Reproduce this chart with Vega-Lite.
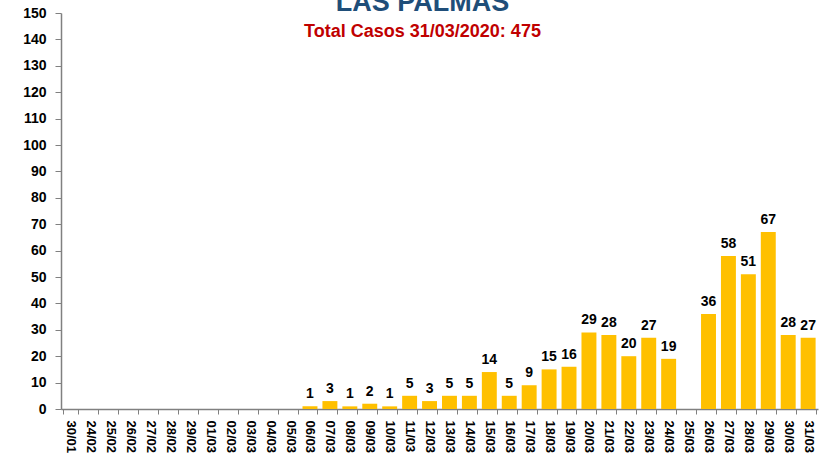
{
  "$schema": "https://vega.github.io/schema/vega-lite/v6.json",
  "autosize": "none",
  "width": 757,
  "height": 396,
  "padding": {"top": 13, "left": 61, "right": 5, "bottom": 48},
  "background": "white",
  "config": {
    "font": "Liberation Sans",
    "view": {"stroke": null}
  },
  "title": {
    "text": "LAS PALMAS",
    "subtitle": "Total Casos 31/03/2020: 475",
    "anchor": "middle",
    "frame": "group",
    "dx": -17,
    "offset": -36,
    "font": "Liberation Sans",
    "fontSize": 27,
    "fontWeight": "bold",
    "color": "#1F4E79",
    "subtitleFont": "Liberation Sans",
    "subtitleFontSize": 18,
    "subtitleFontWeight": "bold",
    "subtitleColor": "#C00000",
    "subtitlePadding": 6
  },
  "data": {
    "values": [
      {"fecha": "30/01", "casos": 0},
      {"fecha": "24/02", "casos": 0},
      {"fecha": "25/02", "casos": 0},
      {"fecha": "26/02", "casos": 0},
      {"fecha": "27/02", "casos": 0},
      {"fecha": "28/02", "casos": 0},
      {"fecha": "29/02", "casos": 0},
      {"fecha": "01/03", "casos": 0},
      {"fecha": "02/03", "casos": 0},
      {"fecha": "03/03", "casos": 0},
      {"fecha": "04/03", "casos": 0},
      {"fecha": "05/03", "casos": 0},
      {"fecha": "06/03", "casos": 1},
      {"fecha": "07/03", "casos": 3},
      {"fecha": "08/03", "casos": 1},
      {"fecha": "09/03", "casos": 2},
      {"fecha": "10/03", "casos": 1},
      {"fecha": "11/03", "casos": 5},
      {"fecha": "12/03", "casos": 3},
      {"fecha": "13/03", "casos": 5},
      {"fecha": "14/03", "casos": 5},
      {"fecha": "15/03", "casos": 14},
      {"fecha": "16/03", "casos": 5},
      {"fecha": "17/03", "casos": 9},
      {"fecha": "18/03", "casos": 15},
      {"fecha": "19/03", "casos": 16},
      {"fecha": "20/03", "casos": 29},
      {"fecha": "21/03", "casos": 28},
      {"fecha": "22/03", "casos": 20},
      {"fecha": "23/03", "casos": 27},
      {"fecha": "24/03", "casos": 19},
      {"fecha": "25/03", "casos": 0},
      {"fecha": "26/03", "casos": 36},
      {"fecha": "27/03", "casos": 58},
      {"fecha": "28/03", "casos": 51},
      {"fecha": "29/03", "casos": 67},
      {"fecha": "30/03", "casos": 28},
      {"fecha": "31/03", "casos": 27}
    ]
  },
  "encoding": {
    "x": {
      "field": "fecha",
      "type": "ordinal",
      "sort": null,
      "title": null,
      "scale": {"paddingInner": 0.25, "paddingOuter": 0.12},
      "axis": {
        "labelAngle": 90,
        "labelFontSize": 13,
        "labelFontWeight": "bold",
        "labelColor": "black",
        "labelPadding": 6,
        "tickBand": "extent",
        "tickSize": 5,
        "tickColor": "#808080",
        "domainColor": "#808080",
        "domainWidth": 1.5
      }
    },
    "y": {
      "field": "casos",
      "type": "quantitative",
      "title": null,
      "scale": {"domain": [0, 150], "nice": false},
      "axis": {
        "values": [0, 10, 20, 30, 40, 50, 60, 70, 80, 90, 100, 110, 120, 130, 140, 150],
        "grid": false,
        "labelFontSize": 14,
        "labelFontWeight": "bold",
        "labelColor": "black",
        "labelPadding": 9,
        "tickSize": 6,
        "tickColor": "#808080",
        "domainColor": "#808080",
        "domainWidth": 1.5
      }
    }
  },
  "layer": [
    {"mark": {"type": "bar", "color": "#FFC000"}},
    {
      "transform": [{"filter": "datum.casos > 0"}],
      "mark": {"type": "text", "dy": -12, "fontSize": 14, "fontWeight": "bold", "color": "black"},
      "encoding": {"text": {"field": "casos", "type": "quantitative"}}
    }
  ]
}
